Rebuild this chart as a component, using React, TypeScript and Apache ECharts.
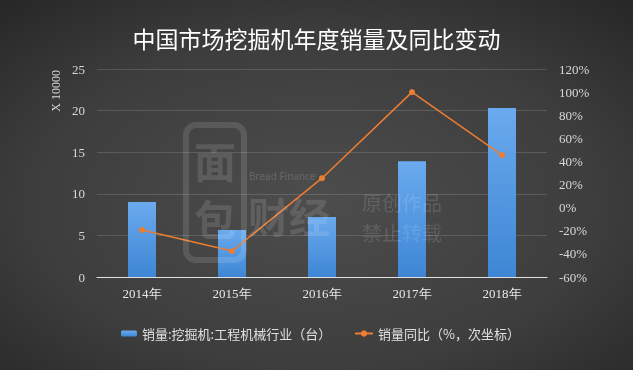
import React, { useEffect, useRef } from "react";
import * as echarts from "echarts";

const categories = ["2014年", "2015年", "2016年", "2017年", "2018年"];
const salesValues = [9.0, 5.65, 7.2, 13.9, 20.3];
const yoyValues = [-19.3, -37.5, 25.5, 100.0, 45.5];
const barName = "销量:挖掘机:工程机械行业（台）";
const lineName = "销量同比（%，次坐标）";
const title = "中国市场挖掘机年度销量及同比变动";

export default function App() {
  const ref = useRef<HTMLDivElement>(null);
  useEffect(() => {
    if (!ref.current) return;
    const chart = echarts.init(ref.current, null, { renderer: "svg" });
    const wm = "rgba(255,255,255,0.12)";
    chart.setOption({
      animation: false,
      backgroundColor: {
        type: "radial",
        x: 0.5,
        y: 0.55,
        r: 0.75,
        colorStops: [
          { offset: 0, color: "#4d4d4d" },
          { offset: 0.6, color: "#3d3d3d" },
          { offset: 1, color: "#262626" },
        ],
      },
      title: {
        text: title,
        left: "center",
        top: 21,
        textStyle: {
          color: "#ffffff",
          fontSize: 23,
          fontWeight: "normal",
          fontFamily: "Noto Sans CJK SC",
        },
      },
      grid: { left: 97, right: 86, top: 69, bottom: 93 },
      legend: [
        {
          data: [barName],
          left: 116,
          top: 322,
          itemWidth: 16,
          itemHeight: 6,
          itemGap: 4,
          textStyle: { color: "#e0e0e0", fontSize: 13, fontFamily: "Noto Sans CJK SC" },
        },
        {
          data: [lineName],
          left: 349,
          top: 322,
          itemWidth: 18,
          itemHeight: 8,
          textStyle: { color: "#e0e0e0", fontSize: 13, fontFamily: "Noto Sans CJK SC" },
        },
      ],
      graphic: [
        {
          type: "text",
          left: 50,
          top: 70,
          rotation: Math.PI / 2,
          style: {
            text: "X 10000",
            fill: "#d8d8d8",
            font: "12px 'Liberation Serif', serif",
          },
        },
        {
          type: "rect",
          shape: { x: 186, y: 125, width: 58, height: 135, r: 10 },
          style: { fill: "none", stroke: wm, lineWidth: 6 },
          z: 100,
        },
        {
          type: "text",
          x: 194,
          y: 138,
          style: { text: "面", fill: wm, font: "bold 42px 'Noto Sans CJK SC'" },
          z: 100,
        },
        {
          type: "text",
          x: 194,
          y: 196,
          style: { text: "包", fill: wm, font: "bold 42px 'Noto Sans CJK SC'" },
          z: 100,
        },
        {
          type: "text",
          x: 248,
          y: 194,
          style: { text: "财经", fill: wm, font: "bold 41px 'Noto Sans CJK SC'" },
          z: 100,
        },
        {
          type: "text",
          x: 249,
          y: 171,
          style: { text: "Bread Finance", fill: "rgba(255,255,255,0.16)", font: "10px 'Noto Sans'" },
          z: 100,
        },
        {
          type: "text",
          x: 362,
          y: 192,
          style: { text: "原创作品", fill: wm, font: "20px 'Noto Sans CJK SC'" },
          z: 100,
        },
        {
          type: "text",
          x: 362,
          y: 222,
          style: { text: "禁止转载", fill: wm, font: "20px 'Noto Sans CJK SC'" },
          z: 100,
        },
      ],
      xAxis: {
        type: "category",
        data: categories,
        axisTick: { show: false },
        axisLine: { lineStyle: { color: "#e0e0e0", width: 1 } },
        axisLabel: {
          color: "#e8e8e8",
          fontSize: 13,
          fontFamily: "'Liberation Serif', serif",
          margin: 10,
        },
      },
      yAxis: [
        {
          type: "value",
          min: 0,
          max: 25,
          interval: 5,
          axisLine: { show: false },
          axisTick: { show: false },
          axisLabel: {
            color: "#d8d8d8",
            fontSize: 13,
            fontFamily: "'Liberation Serif', serif",
            margin: 12,
          },
          splitLine: { lineStyle: { color: "rgba(255,255,255,0.14)", width: 1 } },
        },
        {
          type: "value",
          min: -60,
          max: 120,
          interval: 20,
          axisLine: { show: false },
          axisTick: { show: false },
          splitLine: { show: false },
          axisLabel: {
            color: "#d8d8d8",
            fontSize: 13,
            fontFamily: "'Liberation Serif', serif",
            formatter: "{value}%",
            margin: 12,
          },
        },
      ],
      series: [
        {
          name: barName,
          type: "bar",
          data: salesValues,
          barWidth: 28,
          itemStyle: {
            color: {
              type: "linear",
              x: 0,
              y: 0,
              x2: 0,
              y2: 1,
              colorStops: [
                { offset: 0, color: "#6aaaee" },
                { offset: 1, color: "#3e86d4" },
              ],
            },
          },
        },
        {
          name: lineName,
          type: "line",
          yAxisIndex: 1,
          data: yoyValues,
          symbol: "circle",
          symbolSize: 6,
          lineStyle: { color: "#ed7d31", width: 1.5 },
          itemStyle: { color: "#ed7d31" },
        },
      ],
    });
    return () => chart.dispose();
  }, []);
  return (
    <div
      ref={ref}
      style={{ position: "fixed", left: 0, top: 0, width: 633, height: 370 }}
    />
  );
}
